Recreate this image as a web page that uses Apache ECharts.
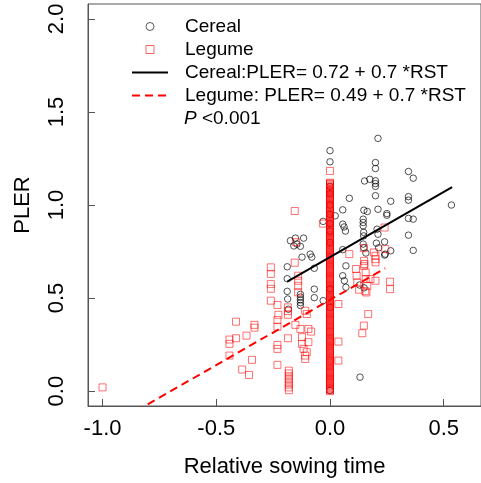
<!DOCTYPE html>
<html><head><meta charset="utf-8">
<script src="https://cdn.jsdelivr.net/npm/echarts@6/dist/echarts.min.js"></script>
<style>html,body{margin:0;padding:0;background:#fff}#c{width:481px;height:483px}</style>
</head><body><div id="c"></div>
<script>
// ---- data ----
const cerealX = [0.211,0.2,0.2,0.345,0.366,0.152,0.175,0.2,0.2,0.2,0.085,0.2,0.345,0.345,0.267,0.534,0.056,0.149,0.164,0.211,0.25,0.25,0.345,0.366,0.023,-0.03,0.056,0.062,0.068,0.146,0.146,0.146,0.207,0.211,0.148,0.148,0.345,-0.174,-0.152,-0.116,-0.145,-0.13,-0.159,0.24,0.214,0.267,0.24,0.366,-0.087,-0.08,-0.123,0.056,-0.069,-0.188,-0.188,0.07,0.056,0.063,0.07,0.204,-0.188,-0.186,-0.183,-0.13,-0.13,-0.13,-0.13,-0.13,-0.069,-0.069,-0.03,0.132,0.13,0.15,0.158,0.146,0.149,0.243];
const cerealY = [1.358,1.228,1.196,1.18,1.144,1.129,1.138,1.13,1.115,1.10,1.036,1.05,1.045,1.026,1.02,1.0,0.974,0.972,0.965,0.977,0.954,0.945,0.928,0.924,0.942,0.912,0.897,0.882,0.86,0.924,0.906,0.888,0.87,0.843,0.853,0.834,0.838,0.808,0.822,0.822,0.79,0.778,0.78,0.802,0.77,0.754,0.731,0.756,0.736,0.72,0.72,0.76,0.66,0.668,0.604,0.673,0.62,0.593,0.558,0.795,0.536,0.495,0.44,0.52,0.505,0.49,0.475,0.46,0.548,0.502,0.486,0.075,0.57,0.555,0.742,0.79,0.77,0.736];
// cereal points sown at RST = 0
const cerealAtZeroY = [1.292,1.232,1.1,1.06,1.0,0.95,0.9,0.86,0.8,0.55,0.45,0.003];

const legumeX = [-1.0,-0.26,-0.26,-0.26,-0.26,-0.26,-0.231,-0.413,-0.332,-0.332,-0.367,-0.413,-0.442,-0.442,-0.442,-0.343,-0.386,-0.356,-0.231,-0.231,-0.185,-0.231,-0.231,-0.231,-0.181,-0.181,-0.181,-0.181,-0.181,-0.181,-0.181,-0.181,-0.155,-0.155,-0.15,-0.14,-0.14,-0.14,-0.14,-0.185,-0.185,-0.185,-0.227,-0.109,-0.102,-0.152,-0.13,-0.095,-0.083,-0.123,-0.123,-0.116,-0.095,-0.102,-0.109,-0.109,0.037,0.037,0.037,0.168,0.149,0.142,-0.03,0.24,0.085,0.152,0.15,0.193,0.2,0.2,0.2,0.243,0.114,0.117,0.12,0.128,0.149,0.157,0.157,0.164,0.155,0.16,0.178,0.2,0.264,0.264,0.149];
const legumeY = [0.02,0.665,0.63,0.575,0.55,0.486,0.463,0.373,0.356,0.341,0.298,0.284,0.277,0.254,0.191,0.168,0.116,0.087,0.382,0.346,0.284,0.248,0.227,0.141,0.11,0.095,0.08,0.065,0.05,0.035,0.02,0.005,0.968,0.69,0.80,0.62,0.593,0.566,0.531,0.45,0.43,0.41,0.41,0.432,0.414,0.356,0.334,0.334,0.32,0.29,0.254,0.227,0.263,0.209,0.173,0.191,0.468,0.266,0.164,0.414,0.352,0.311,0.9,0.879,0.736,0.683,0.70,0.745,0.727,0.709,0.692,0.763,0.656,0.62,0.584,0.545,0.673,0.638,0.602,0.566,0.537,0.53,0.602,0.593,0.588,0.548,0.768];
// legume points sown at RST = 0 (dense column)
const legumeAtZeroY = [1.183,1.12,1.112,1.10,1.092,1.085,1.075,1.065,1.055,1.045,1.038,1.03,1.02,1.01,1.0,0.99,0.983,0.975,0.965,0.955,0.945,0.935,0.928,0.92,0.91,0.90,0.89,0.88,0.872,0.865,0.855,0.845,0.835,0.825,0.818,0.81,0.8,0.79,0.78,0.77,0.762,0.755,0.745,0.735,0.725,0.715,0.708,0.70,0.69,0.68,0.67,0.66,0.652,0.645,0.635,0.625,0.615,0.605,0.598,0.59,0.58,0.57,0.56,0.55,0.543,0.535,0.525,0.515,0.505,0.495,0.488,0.48,0.47,0.46,0.45,0.44,0.432,0.425,0.415,0.405,0.395,0.385,0.378,0.37,0.36,0.35,0.34,0.33,0.322,0.315,0.305,0.295,0.285,0.275,0.268,0.26,0.25,0.24,0.23,0.22,0.212,0.205,0.195,0.185,0.175,0.165,0.158,0.15,0.14,0.13,0.12,0.11,0.102,0.095,0.085,0.075,0.065,0.055,0.048,0.04,0.03,0.02,0.01,0.0,
  1.116,1.106,1.096,1.088,1.08,1.07,1.06,1.05,1.041,1.034,1.025,1.015,1.005,0.995,0.987,0.979,0.97,0.96,0.95,0.94,0.931,0.924,0.915,0.905,0.895,0.885,0.876,0.868,0.86,0.85,0.84,0.83,0.821,0.814,0.805,0.795,0.785,0.775,0.766,0.758,0.75,0.74,0.73,0.72,0.711,0.704,0.695,0.685,0.675,0.665,0.656,0.648,0.64,0.63,0.62,0.61,0.601,0.594,0.585,0.575,0.565,0.555,0.546,0.539,0.53,0.52,0.51,0.5,0.491,0.484,0.475,0.465,0.455,0.445,0.436,0.428,0.42,0.41,0.4,0.39,0.381,0.374,0.365,0.355,0.345,0.335,0.326,0.318,0.31,0.3,0.29,0.28,0.271,0.264,0.255,0.245,0.235,0.225,0.216,0.208,0.2,0.19,0.18,0.17,0.161,0.154,0.145,0.135,0.125,0.115,0.106,0.098,0.09,0.08,0.07,0.06,0.051,0.044,0.035,0.025,0.015,0.005];

// fitted lines: intercept, slope, x-range
const cerealFit = [0.72, 0.7];
const legumeFit = [0.49, 0.7];
const cerealFitX = [-0.188, 0.537];
const legumeFitX = [-1.0, 0.243];

const xTicks = [-1.0, -0.5, 0.0, 0.5];
const yTicks = [0.0, 0.5, 1.0, 1.5, 2.0];

const seriesNames = ['Cereal', 'Legume', 'Cereal:PLER= 0.72 + 0.7 *RST', 'Legume: PLER= 0.49 + 0.7 *RST'];
const xTitle = 'Relative sowing time';
const yTitle = 'PLER';

// ---- chart ----
const FONT = "'Liberation Sans', Arial, sans-serif";
const pairs = (xs, ys) => xs.map((x, i) => [x, ys[i]]);
const atZero = ys => ys.map(y => [0, y]);
const fitLine = (c, xs) => xs.map(x => [x, c[0] + c[1] * x]);

const chart = echarts.init(document.getElementById('c'), null, {renderer: 'canvas'});
const axisColor = '#555';
chart.setOption({
  animation: false,
  grid: {left: 88, top: 4, right: -9, bottom: 76, show: true, borderColor: axisColor, borderWidth: 1},
  xAxis: {
    type: 'value', min: -1.064, max: 0.664,
    axisLine: {show: true, onZero: false, lineStyle: {color: axisColor, width: 1}},
    axisTick: {show: true, inside: true, length: 7, customValues: xTicks, lineStyle: {color: axisColor}},
    axisLabel: {customValues: xTicks, formatter: v => v.toFixed(1), color: '#000', fontSize: 22, fontFamily: FONT, margin: 12},
    splitLine: {show: false},
    name: xTitle, nameLocation: 'middle', nameGap: 50,
    nameTextStyle: {color: '#000', fontSize: 22, fontFamily: FONT}
  },
  yAxis: {
    type: 'value', min: -0.08, max: 2.08,
    axisLine: {show: true, onZero: false, lineStyle: {color: axisColor, width: 1}},
    axisTick: {show: true, inside: true, length: 7, customValues: yTicks, lineStyle: {color: axisColor}},
    axisLabel: {customValues: yTicks, formatter: v => v.toFixed(1), rotate: 90, color: '#000', fontSize: 22, fontFamily: FONT, margin: 20},
    splitLine: {show: false},
    name: yTitle, nameLocation: 'middle', nameGap: 54,
    nameTextStyle: {color: '#000', fontSize: 22, fontFamily: FONT}
  },
  legend: {
    orient: 'vertical', left: 131, top: 17, padding: 0, itemGap: 4,
    itemWidth: 36, itemHeight: 8, selectedMode: false,
    textStyle: {fontSize: 19, fontFamily: FONT, color: '#000', lineHeight: 19, padding: [0, 0, 0, 12]},
    data: [
      {name: seriesNames[0], icon: 'circle', itemStyle: {color: 'rgba(0,0,0,0)', borderColor: '#333', borderWidth: 1}},
      {name: seriesNames[1], icon: 'path://M0 0H10V10H0Z', itemStyle: {color: 'rgba(0,0,0,0)', borderColor: 'rgba(255,0,0,0.75)', borderWidth: 1}},
      {name: seriesNames[2], itemStyle: {opacity: 0}},
      {name: seriesNames[3], itemStyle: {opacity: 0}}
    ]
  },
  graphic: [{
    type: 'text', left: 184, top: 109,
    style: {
      text: '{i|P}{n| <0.001}',
      rich: {
        i: {fontStyle: 'italic', fontSize: 19, fontFamily: FONT, fill: '#000'},
        n: {fontSize: 19, fontFamily: FONT, fill: '#000'}
      }
    }
  }],
  series: [
    {name: seriesNames[0], type: 'scatter', symbol: 'circle', symbolSize: 6.5,
     itemStyle: {color: 'rgba(0,0,0,0)', borderColor: 'rgba(0,0,0,0.85)', borderWidth: 1},
     data: pairs(cerealX, cerealY).concat(atZero(cerealAtZeroY))},
    {name: seriesNames[1], type: 'scatter', symbol: 'rect', symbolSize: 7,
     itemStyle: {color: 'rgba(0,0,0,0)', borderColor: 'rgba(255,0,0,0.7)', borderWidth: 1},
     data: pairs(legumeX, legumeY).concat(atZero(legumeAtZeroY))},
    {name: seriesNames[2], type: 'line', symbol: 'none', clip: true,
     lineStyle: {color: '#000', width: 2}, itemStyle: {color: '#000'},
     data: fitLine(cerealFit, cerealFitX)},
    {name: seriesNames[3], type: 'line', symbol: 'none', clip: true,
     lineStyle: {color: '#ff0000', width: 2, type: [8, 5]}, itemStyle: {color: '#ff0000'},
     data: fitLine(legumeFit, legumeFitX)}
  ]
});
</script></body></html>
